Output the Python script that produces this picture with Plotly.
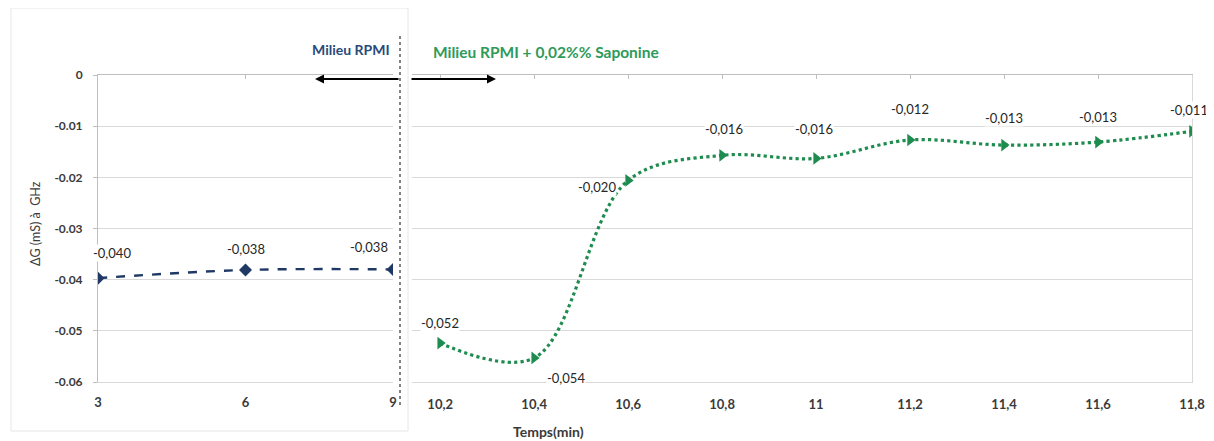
import plotly.graph_objects as go

# ---- data ----
x_rpmi = [3, 6, 9]
y_rpmi = [-0.0397, -0.0381, -0.0380]
lbl_rpmi = ["-0,040", "-0,038", "-0,038"]

x_sapo = [10.2, 10.4, 10.6, 10.8, 11.0, 11.2, 11.4, 11.6, 11.8]
y_sapo = [-0.0524, -0.0553, -0.0206, -0.0157, -0.0163, -0.0127, -0.0137, -0.0131, -0.0110]
lbl_sapo = ["-0,052", "-0,054", "-0,020", "-0,016", "-0,016", "-0,012", "-0,013", "-0,013", "-0,011"]

y_ticks = [0, -0.01, -0.02, -0.03, -0.04, -0.05, -0.06]
y_ticktext = ["0", "-0.01", "-0.02", "-0.03", "-0.04", "-0.05", "-0.06"]
x1_ticks = [3, 6, 9]
x2_ticks = [10.2, 10.4, 10.6, 10.8, 11.0, 11.2, 11.4, 11.6, 11.8]

# label offsets (pixels)
off_rpmi = [(14, 25), (0, 21), (-24, 22)]
off_sapo = [(0, 20), (32, -20), (-31, -7), (2, 26), (-2, 29), (0, 31), (0, 27), (0, 25), (-3, 21)]

# page has an 8px body margin: figure drawn at (8, 8)
OFF = 8
W, H = 1214 - OFF, 441 - OFF


def px(x):
    return (x - OFF) / W


def py(y):
    return 1 - (y - OFF) / H


NAVY = "#1f3864"
GREEN = "#1e8c4e"
GRID = "#d9d9d9"
AXC = "#bfbfbf"
TXT = "#3a3a3a"
FONT = "Lato"


def fmt(v):
    return ("%g" % v).replace(".", ",")


ydom = [py(382), py(75)]
x1dom = [px(98), px(393)]
x2dom = [px(412), px(1192)]

fig = go.Figure()
fig.add_trace(go.Scatter(
    x=x_rpmi, y=y_rpmi, mode="lines+markers", xaxis="x", yaxis="y",
    line=dict(color=NAVY, width=2.4, dash="dash", shape="spline"),
    marker=dict(symbol="diamond", size=10, color=NAVY),
    showlegend=False, hoverinfo="x+y"))
fig.add_trace(go.Scatter(
    x=x_sapo, y=y_sapo, mode="lines+markers", xaxis="x2", yaxis="y2",
    line=dict(color=GREEN, width=3.2, dash="dot", shape="spline", smoothing=1),
    marker=dict(symbol="triangle-right", size=11, color=GREEN),
    showlegend=False, hoverinfo="x+y"))
# invisible traces for top tick axes
fig.add_trace(go.Scatter(x=[3, 9], y=[0, 0], xaxis="x3", yaxis="y", mode="none", showlegend=False, hoverinfo="skip"))
fig.add_trace(go.Scatter(x=[10.2, 11.8], y=[0, 0], xaxis="x4", yaxis="y2", mode="none", showlegend=False, hoverinfo="skip"))

ytickfont = dict(family=FONT, size=12, color=TXT)
xtickfont = dict(family=FONT, size=13, color=TXT)

fig.update_layout(
    width=W, height=H, margin=dict(l=0, r=0, t=0, b=0, autoexpand=False),
    paper_bgcolor="white", plot_bgcolor="white",
    font=dict(family=FONT, size=12, color=TXT),
    xaxis=dict(domain=x1dom, anchor="y", range=[3, 9], tickvals=x1_ticks, automargin=False,
               ticktext=["<b>%s</b>" % fmt(v) for v in x1_ticks], showgrid=False, zeroline=False,
               showline=True, linecolor=GRID, linewidth=1, ticks="",
               tickfont=xtickfont, ticklabelstandoff=8),
    xaxis3=dict(domain=x1dom, anchor="y", overlaying="x", side="top", range=[3, 9], automargin=False,
                tickvals=x1_ticks, showticklabels=False, showgrid=False, zeroline=False,
                showline=True, linecolor=AXC, ticks="inside", ticklen=4, tickcolor=AXC),
    xaxis2=dict(domain=x2dom, anchor="y2", range=[10.14, 11.8], tickvals=x2_ticks, automargin=False,
                ticktext=["<b>%s</b>" % fmt(v) for v in x2_ticks], showgrid=False, zeroline=False,
                showline=True, linecolor=GRID, linewidth=1, ticks="",
                tickfont=xtickfont, ticklabelstandoff=10),
    xaxis4=dict(domain=x2dom, anchor="y2", overlaying="x2", side="top", range=[10.14, 11.8], automargin=False,
                tickvals=x2_ticks, showticklabels=False, showgrid=False, zeroline=False,
                showline=True, linecolor=AXC, ticks="inside", ticklen=4, tickcolor=AXC),
    yaxis=dict(domain=ydom, anchor="x", range=[-0.06, 0], tickvals=y_ticks,
               ticktext=["<b>%s</b>" % t for t in y_ticktext],
               automargin=False,
               showgrid=True, gridcolor=GRID, zeroline=False, showline=True, linecolor=AXC,
               ticks="outside", ticklen=4, tickcolor=AXC, tickfont=ytickfont, ticklabelstandoff=8),
    yaxis2=dict(domain=ydom, anchor="x2", side="right", range=[-0.06, 0], tickvals=y_ticks,
                automargin=False,
                showticklabels=False, showgrid=True, gridcolor=GRID, zeroline=False,
                showline=True, linecolor=GRID, ticks=""),
)

lblfont = dict(family=FONT, size=13, color="#262626")
ann = []
for xv, yv, t, (dx, dy) in zip(x_rpmi, y_rpmi, lbl_rpmi, off_rpmi):
    ann.append(dict(x=xv, y=yv, xref="x", yref="y", text=t, showarrow=False,
                    xshift=dx, yshift=dy, bgcolor="white", borderpad=0, font=lblfont))
for xv, yv, t, (dx, dy) in zip(x_sapo, y_sapo, lbl_sapo, off_sapo):
    ann.append(dict(x=xv, y=yv, xref="x2", yref="y2", text=t, showarrow=False,
                    xshift=dx, yshift=dy, bgcolor="white", borderpad=0, font=lblfont))

ann += [
    dict(x=px(392), y=py(50), xref="paper", yref="paper", text="<b>Milieu RPMI</b>",
         showarrow=False, xanchor="right", yanchor="middle",
         font=dict(family=FONT, size=14, color="#2a4a7a")),
    dict(x=px(431), y=py(52), xref="paper", yref="paper",
         text="<b>Milieu RPMI + 0,02%% Saponine</b>",
         showarrow=False, xanchor="left", yanchor="middle",
         font=dict(family=FONT, size=15.5, color="#2e9a5a")),
    dict(x=px(315), y=py(79), xref="paper", yref="paper", text="", showarrow=True,
         ax=85, ay=0, arrowhead=2, arrowsize=1, arrowwidth=1.8, arrowcolor="black"),
    dict(x=px(496), y=py(79), xref="paper", yref="paper", text="", showarrow=True,
         ax=-86, ay=0, arrowhead=2, arrowsize=1, arrowwidth=1.8, arrowcolor="black"),
    dict(x=px(35), y=py(224), xref="paper", yref="paper", text="ΔG (mS) à  GHz",
         showarrow=False, textangle=-90, xanchor="center", yanchor="middle",
         font=dict(family=FONT, size=12.5, color=TXT)),
    dict(x=px(548), y=py(431), xref="paper", yref="paper", text="<b>Temps(min)</b>",
         showarrow=False, xanchor="center", yanchor="middle",
         font=dict(family=FONT, size=14, color=TXT)),
]
fig.update_layout(annotations=ann)

fig.update_layout(shapes=[
    dict(type="line", xref="paper", yref="paper", x0=px(400), x1=px(400),
         y0=py(405), y1=py(35), line=dict(color="#595959", width=1.5, dash="dot")),
    dict(type="rect", xref="paper", yref="paper", x0=px(11), x1=px(408),
         y0=py(431), y1=py(8), line=dict(color="#e6e6e6", width=1), layer="below"),
])

fig.write_html("out.html")
